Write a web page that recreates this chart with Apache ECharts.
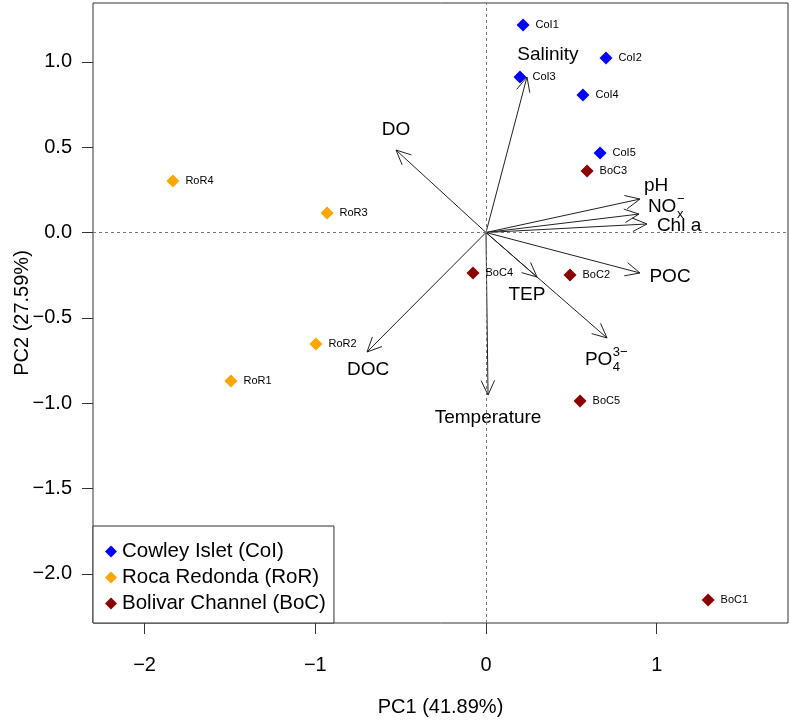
<!DOCTYPE html>
<html><head><meta charset="utf-8">
<script src="https://cdn.jsdelivr.net/npm/echarts@6/dist/echarts.min.js"></script>
<style>html,body{margin:0;padding:0;background:#fff}#c{width:790px;height:721px}</style>
</head><body><div id="c"></div>
<script>
// ---- sample scores ----
const colNames = ['CoI1','CoI2','CoI3','CoI4','CoI5'];
const colPC1 = [0.217, 0.703, 0.199, 0.568, 0.668];
const colPC2 = [1.216, 1.022, 0.911, 0.806, 0.466];
const rorNames = ['RoR1','RoR2','RoR3','RoR4'];
const rorPC1 = [-1.494, -0.996, -0.931, -1.834];
const rorPC2 = [-0.870, -0.653, 0.114, 0.302];
const bocNames = ['BoC1','BoC2','BoC3','BoC4','BoC5'];
const bocPC1 = [1.301, 0.492, 0.592, -0.076, 0.551];
const bocPC2 = [-2.153, -0.249, 0.360, -0.237, -0.987];
// ---- variable loadings (arrows) ----
const varNames = ['Salinity','DO','pH','NO','Chl a','POC','TEP','PO','Temperature','DOC'];
const varSup   = ['','','','\u2212','','','','3\u2212','',''];
const varSub   = ['','','','x','','','','4','',''];
const arrowPC1 = [0.240, -0.527, 0.902, 0.896, 0.943, 0.902, 0.299, 0.709, 0.012, -0.697];
const arrowPC2 = [0.911, 0.483, 0.196, 0.108, 0.050, -0.237, -0.261, -0.618, -0.952, -0.700];
const labelPC1 = [0.363, -0.527, 0.996, 1.054, 1.131, 1.078, 0.240, 0.703, 0.012, -0.691];
const labelPC2 = [1.040, 0.600, 0.272, 0.149, 0.038, -0.261, -0.366, -0.747, -1.087, -0.806];
// ---- ticks ----
const xTicks = [-2, -1, 0, 1];
const yTicks = [-2, -1.5, -1, -0.5, 0, 0.5, 1];

const FONT = '"Liberation Sans", Arial, Helvetica, sans-serif';
const VF = 19, SF = 13;
const mctx = document.createElement('canvas').getContext('2d');
function tw(t, size){ mctx.font = size + 'px ' + FONT; return mctx.measureText(t).width; }
const minus = s => String(s).replace('-', '\u2212');

function pts(xs, ys, names){ return xs.map((x,i)=>[x, ys[i], names[i]]); }

const scatterBase = (name, color, data) => ({
  name, type:'scatter', data, symbol:'diamond', symbolSize:13,
  itemStyle:{color, opacity:1}, z:3,
  label:{show:true, position:'right', distance:6, formatter:p=>p.value[2],
         fontSize:11, color:'#000', fontFamily:FONT}
});

const chart = echarts.init(document.getElementById('c'), null, {renderer:'canvas'});
chart.setOption({
  animation:false,
  backgroundColor:'#fff',
  grid:{left:93, right:2, top:3, bottom:98, show:true, borderColor:'#333', borderWidth:1,
        containLabel:false, outerBoundsMode:'none'},
  xAxis:{type:'value', min:-2.302, max:1.769, position:'bottom',
    axisLine:{show:false, onZero:false}, splitLine:{show:false},
    axisTick:{show:true, customValues:xTicks, length:11, lineStyle:{color:'#333'}},
    axisLabel:{customValues:xTicks, formatter:v=>minus(v), fontSize:20, color:'#000', margin:32, fontFamily:FONT},
    name:'PC1 (41.89%)', nameLocation:'middle', nameGap:74,
    nameTextStyle:{fontSize:20, color:'#000', fontFamily:FONT}},
  yAxis:{type:'value', min:-2.2876, max:1.3445, position:'left',
    axisLine:{show:false, onZero:false}, splitLine:{show:false},
    axisTick:{show:true, customValues:yTicks, length:11, lineStyle:{color:'#333'}},
    axisLabel:{customValues:yTicks, formatter:v=>minus(v.toFixed(1)), fontSize:20, color:'#000', margin:21, fontFamily:FONT},
    name:'PC2 (27.59%)', nameLocation:'middle', nameGap:61, nameRotate:90, nameMoveOverlap:false,
    nameTextStyle:{fontSize:20, color:'#000', fontFamily:FONT}},
  legend:{orient:'vertical', left:93, bottom:98, icon:'diamond', itemWidth:12, itemHeight:12,
    itemGap:5, itemTextGap:13, padding:[15,8,9,12], borderColor:'#333', borderWidth:1,
    backgroundColor:'#fff', itemStyle:{opacity:1},
    textStyle:{fontSize:20.5, lineHeight:20, color:'#000', fontFamily:FONT},
    data:['Cowley Islet (CoI)','Roca Redonda (RoR)','Bolivar Channel (BoC)']},
  series:[
    {type:'custom', name:'arrows', silent:true, z:2,
     data: arrowPC1.map((x,i)=>[x, arrowPC2[i]]),
     encode:{x:0, y:1},
     renderItem:(params, api)=>{
       const o = api.coord([0,0]);
       const t = api.coord([api.value(0), api.value(1)]);
       const a = Math.atan2(t[1]-o[1], t[0]-o[0]);
       const L = 16, A = 25*Math.PI/180;
       const h1 = [t[0]-L*Math.cos(a-A), t[1]-L*Math.sin(a-A)];
       const h2 = [t[0]-L*Math.cos(a+A), t[1]-L*Math.sin(a+A)];
       const st = {stroke:'#222', lineWidth:1, fill:null};
       return {type:'group', children:[
         {type:'line', shape:{x1:o[0], y1:o[1], x2:t[0], y2:t[1]}, style:st},
         {type:'polyline', shape:{points:[h1, t, h2]}, style:st}
       ]};
     },
     markLine:{silent:true, symbol:'none', label:{show:false},
       lineStyle:{type:[3,3], color:'#777', width:1},
       data:[{xAxis:0},{yAxis:0}]}
    },
    {type:'custom', name:'varLabels', silent:true, z:4,
     data: labelPC1.map((x,i)=>[x, labelPC2[i], i]),
     encode:{x:0, y:1},
     renderItem:(params, api)=>{
       const i = api.value(2);
       const p = api.coord([api.value(0), api.value(1)]);
       const main = varNames[i], sup = varSup[i], sub = varSub[i];
       const mw = tw(main, VF);
       const sw = Math.max(sup ? tw(sup, SF) : 0, sub ? tw(sub, SF) : 0);
       const left = p[0] - (mw + sw) / 2;
       const mk = (x, y, text, size) => ({type:'text', x, y,
         style:{text, fontSize:size, fontFamily:FONT, fill:'#000', align:'left', verticalAlign:'middle',
                textAlign:'left', textVerticalAlign:'middle'}});
       const ch = [mk(left, p[1], main, VF)];
       if (sup) ch.push(mk(left + mw + 0.5, p[1] - 8, sup, SF));
       if (sub) ch.push(mk(left + mw + 0.5, p[1] + 7, sub, SF));
       return {type:'group', children:ch};
     }
    },
    scatterBase('Cowley Islet (CoI)', '#0000FF', pts(colPC1, colPC2, colNames)),
    scatterBase('Roca Redonda (RoR)', '#FFA500', pts(rorPC1, rorPC2, rorNames)),
    scatterBase('Bolivar Channel (BoC)', '#8B0000', pts(bocPC1, bocPC2, bocNames))
  ]
});
</script></body></html>
